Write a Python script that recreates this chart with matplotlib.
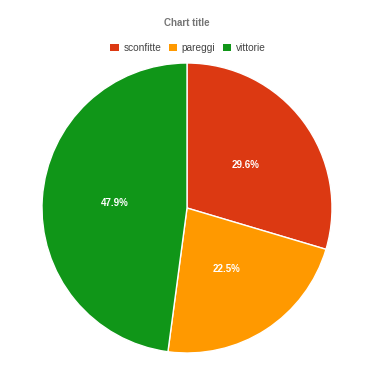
import matplotlib
matplotlib.use('Agg')
import matplotlib.pyplot as plt
from matplotlib.patches import Patch

# 数据
labels = ['sconfitte', 'pareggi', 'vittorie']
values = [29.6, 22.5, 47.9]
colors = ['#dc3912', '#ff9900', '#109618']

plt.rcParams['font.family'] = ['Liberation Sans', 'DejaVu Sans']

fig = plt.figure(figsize=(3.75, 3.66), dpi=100)
ax = fig.add_axes([42 / 375, 13 / 366, 290 / 375, 290 / 366])

wedges, texts, autotexts = ax.pie(
    values, colors=colors, startangle=90, counterclock=False,
    autopct='%.1f%%', pctdistance=0.5, radius=1.0,
    wedgeprops=dict(edgecolor='white', linewidth=1),
    textprops=dict(color='white', fontsize=7, fontweight='bold'))
ax.set_xlim(-1.0, 1.0)
ax.set_ylim(-1.0, 1.0)
ax.set_aspect('equal')

fig.text(187 / 375, 1 - 23 / 366, 'Chart title', ha='center', va='center',
         fontsize=7, fontweight='bold', color='#757575')

handles = [Patch(facecolor=c, edgecolor='none') for c in colors]
fig.legend(handles, labels, loc='center', bbox_to_anchor=(188 / 375, 1 - 48 / 366),
           ncol=3, frameon=False, fontsize=7.3, handlelength=0.8, handleheight=0.8,
           handletextpad=0.5, columnspacing=0.7, labelcolor='#444444')

fig.savefig('out.png', dpi=100)
